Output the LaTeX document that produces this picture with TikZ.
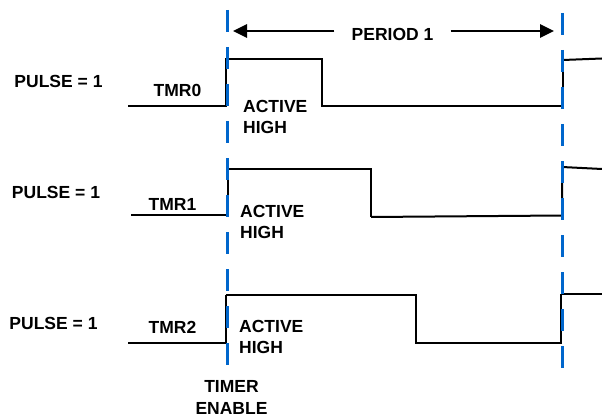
\documentclass[tikz,border=0pt]{standalone}
\usepackage{fontspec}
\setmainfont{Liberation Sans}
\usetikzlibrary{arrows.meta}
\definecolor{enblue}{RGB}{0,102,204}
\begin{document}
\begin{tikzpicture}[x=1pt,y=-1pt,
  lbl/.style={font=\fontsize{17.5}{21.5}\selectfont\bfseries,inner sep=0pt},
  sigthick/.style={line width=2.6pt,line join=miter,line cap=butt},
  sigthin/.style={line width=2pt,line join=miter,line cap=butt},
  enline/.style={enblue,line width=2.6pt,dash pattern=on 22pt off 15pt},
  periodarrow/.style={line width=2.6pt,-{Triangle[length=14pt,width=13pt]}}]
\useasboundingbox (0,0) rectangle (602,417);

% signal TMR0
\draw[sigthick] (128,106) -- (226,106) -- (226,59) -- (322,59) -- (322,106) -- (563,106) -- (563,60);
\draw[sigthin] (563,60) -- (602,58.5);
% signal TMR1
\draw[sigthick] (131,215) -- (228,215) -- (228,169) -- (371,169) -- (371,217);
\draw[sigthin] (371,217) -- (562,215.5) -- (562,167) -- (602,169);
% signal TMR2
\draw[sigthick] (128,343) -- (226,343) -- (226,295);
\draw[sigthin] (226,295) -- (416,295) -- (416,343) -- (561,343) -- (561,294);
\draw[sigthick] (561,294) -- (602,294);

% enable lines
\coordinate (ltop) at (227.5,10);
\coordinate (lbot) at (227.5,374);
\coordinate (rtop) at (562.5,13);
\coordinate (rbot) at (562.5,374);
\draw[enline] (ltop) -- (lbot);
\draw[enline] (rtop) -- (rbot);

% period arrow
\coordinate (pl) at (233,31);
\coordinate (pr) at (554,31);
\node[lbl,anchor=north,fill=white,inner xsep=17pt,inner ysep=0pt] (per) at (392.5,28) {PERIOD 1};
\draw[periodarrow] (per.west |- pl) -- (pl);
\draw[periodarrow] (per.east |- pr) -- (pr);

% labels
\node[lbl,anchor=north] (p0) at (58.5,75) {PULSE = 1};
\node[lbl,anchor=north] (p1) at (56,186) {PULSE = 1};
\node[lbl,anchor=north] (p2) at (53.5,317) {PULSE = 1};
\node[lbl,anchor=north] (t0) at (177.5,84) {TMR0};
\node[lbl,anchor=north] (t1) at (172.5,198) {TMR1};
\node[lbl,anchor=north] (t2) at (172.5,321) {TMR2};
\node[lbl,anchor=north west,align=left] (a0) at (243,100) {ACTIVE\\HIGH};
\node[lbl,anchor=north west,align=left] (a1) at (240,205) {ACTIVE\\HIGH};
\node[lbl,anchor=north west,align=left] (a2) at (239,320) {ACTIVE\\HIGH};
\node[lbl,anchor=north,align=center] (te) at (231.5,380.5) {TIMER\\ENABLE};
\end{tikzpicture}
\end{document}
